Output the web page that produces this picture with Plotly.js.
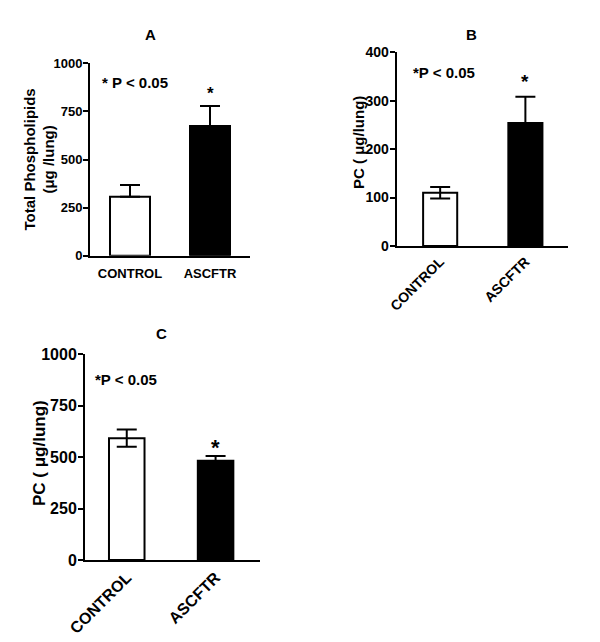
<!DOCTYPE html>
<html>
<head>
<meta charset="utf-8">
<script src="https://cdn.plot.ly/plotly-3.0.1.min.js"></script>
<style>html,body{margin:0;padding:0;background:#fff;}#chart{width:600px;height:642px;}</style>
</head>
<body>
<div id="chart"></div>
<script>
// Data
const categories = ["CONTROL", "ASCFTR"];
const valuesA = [307, 674];
const errUpA = [60, 104];
const errDownA = [0, 0];
const valuesB = [110, 254];
const errUpB = [12, 54];
const errDownB = [12, 54];
const valuesC = [592, 483];
const errUpC = [42, 22];
const errDownC = [42, 22];
const ticksA = [0, 250, 500, 750, 1000];
const ticksB = [0, 100, 200, 300, 400];
const ticksC = [0, 250, 500, 750, 1000];
const barColors = ["#ffffff", "#000000"];

const W = 600, H = 642;
const FONT = "Liberation Sans, Arial, Helvetica, sans-serif";
const px = v => v / W;
const py = v => 1 - v / H;

function barTrace(y, up, down, xa, ya, width) {
  return {
    type: "bar", x: categories, y: y, xaxis: xa, yaxis: ya, width: width,
    marker: {color: barColors, line: {color: "#000", width: 2}},
    error_y: {type: "data", array: up, arrayminus: down, symmetric: false,
              color: "#000", thickness: 2, width: 10},
    showlegend: false, hoverinfo: "skip"
  };
}

const data = [
  barTrace(valuesA, errUpA, errDownA, "x", "y", 0.5),
  barTrace(valuesB, errUpB, errDownB, "x2", "y2", 0.4),
  barTrace(valuesC, errUpC, errDownC, "x3", "y3", 0.4)
];

function yax(domain, ticks, size, standoff) {
  return {
    domain: domain, range: [0, ticks[ticks.length - 1]], tickvals: ticks,
    ticktext: ticks.map(String),
    showline: true, linewidth: 2, linecolor: "#000", ticks: "outside",
    ticklen: 5, tickwidth: 2, tickcolor: "#000", showgrid: false, zeroline: false,
    ticklabelstandoff: standoff,
    tickfont: {family: FONT, size: size, color: "#000", weight: "bold"},
    fixedrange: true
  };
}
function xax(domain, range, anchor, size, angle, standoff) {
  return {
    domain: domain, range: range, anchor: anchor, type: "category",
    showline: true, linewidth: 2, linecolor: "#000", ticks: "", showgrid: false,
    zeroline: false, tickangle: angle, ticklabelstandoff: standoff,
    tickfont: {family: FONT, size: size, color: "#000", weight: "bold"},
    fixedrange: true
  };
}

function ann(text, x, y, size, opts) {
  return Object.assign({
    text: text, x: x, y: y, xref: "paper", yref: "paper", showarrow: false,
    xanchor: "center", yanchor: "middle",
    font: {family: FONT, size: size, color: "#000", weight: "bold"}
  }, opts || {});
}

const layout = {
  width: W, height: H, margin: {l: 0, r: 0, t: 0, b: 0},
  paper_bgcolor: "#fff", plot_bgcolor: "rgba(0,0,0,0)",
  showlegend: false,
  xaxis: xax([px(90), px(250)], [-0.5, 1.5], "y", 13, 0, 5),
  yaxis: Object.assign(yax([py(255.7), py(63.3)], ticksA, 13, -2), {anchor: "x"}),
  xaxis2: xax([px(396.7), px(568)], [-0.51, 1.5], "y2", 14, -45, 0),
  yaxis2: Object.assign(yax([py(246), py(52.3)], ticksB, 14, -2), {anchor: "x2"}),
  xaxis3: xax([px(85), px(260)], [-0.47, 1.5], "y3", 16, -45, 0),
  yaxis3: Object.assign(yax([py(560), py(354.3)], ticksC, 16, -2), {anchor: "x3"}),
  annotations: [
    ann("A", px(150), py(35), 15),
    ann("B", px(471.7), py(35), 15),
    ann("C", px(161.7), py(333), 15),
    ann("* P < 0.05", px(134.8), py(83), 15),
    ann("*P < 0.05", px(443.5), py(72.7), 15),
    ann("*P < 0.05", px(125.8), py(380), 15),
    ann("*", "ASCFTR", 845, 17, {xref: "x", yref: "y"}),
    ann("*", "ASCFTR", 340, 19, {xref: "x2", yref: "y2"}),
    ann("*", "ASCFTR", 545, 22, {xref: "x3", yref: "y3"}),
    ann("Total Phospholipids<br>(μg /lung)", px(38.5), py(160), 15, {textangle: -90}),
    ann("PC ( μg/lung)", px(359), py(143), 15, {textangle: -90}),
    ann("PC ( μg/lung)", px(39), py(453), 17, {textangle: -90})
  ]
};

Plotly.newPlot("chart", data, layout, {displayModeBar: false, staticPlot: true});
</script>
</body>
</html>
